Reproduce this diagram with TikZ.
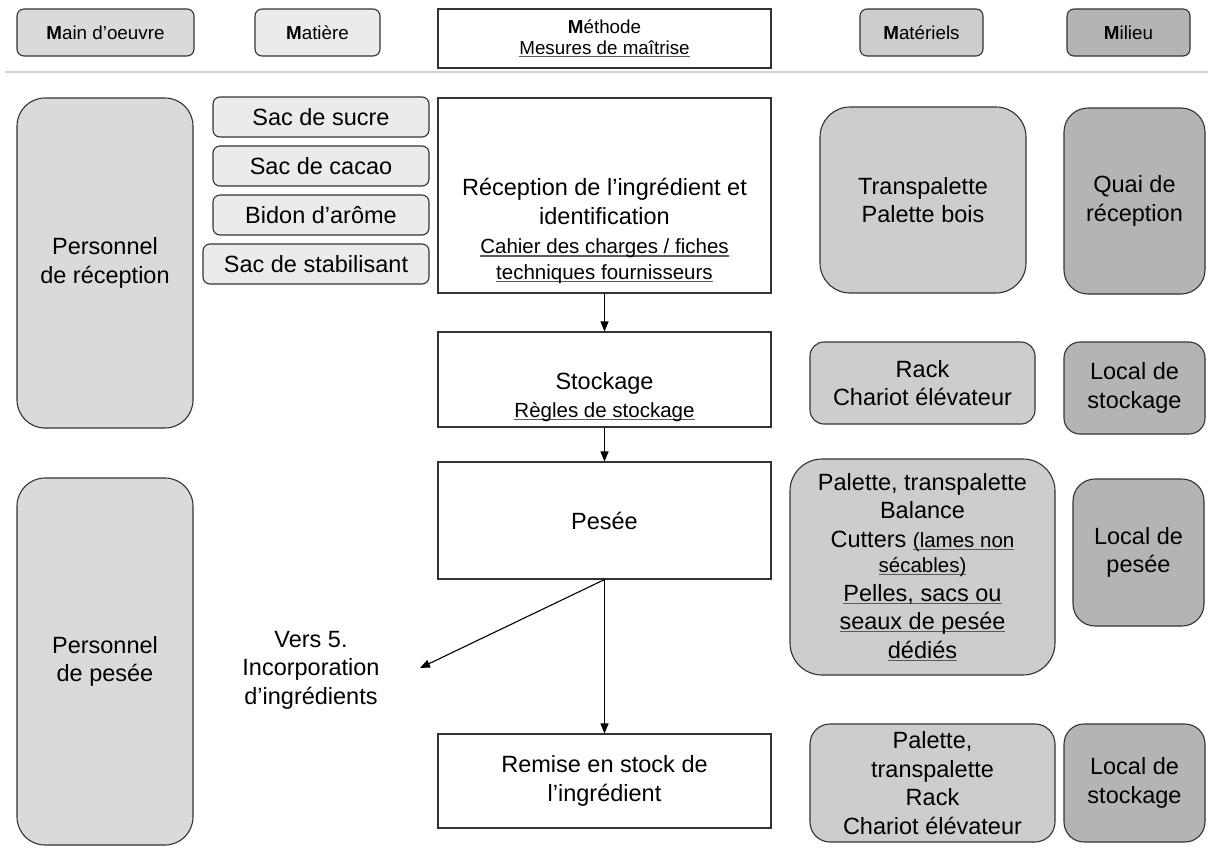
\documentclass[tikz,border=0pt]{standalone}
\usepackage{fontspec}
\setmainfont{Liberation Sans}
\usetikzlibrary{arrows.meta, positioning}

\definecolor{mocol}{HTML}{D9DADB}
\definecolor{matcol}{HTML}{EBEBEB}
\definecolor{matlcol}{HTML}{CDCDCE}
\definecolor{milcol}{HTML}{B4B4B4}
\definecolor{edgecol}{HTML}{333333}
\definecolor{sepcol}{HTML}{D4D4D4}
\definecolor{ulcol}{HTML}{5A5A5A}

\newcommand{\txthead}{\fontsize{18.8}{21}\selectfont}
\newcommand{\txtbody}{\fontsize{23.5}{28.5}\selectfont}
\newcommand{\txtsub}{\fontsize{20.5}{25}\selectfont}
% grey underline close to the baseline
\newcommand{\ulin}[1]{\leavevmode\setbox0\hbox{#1}\rlap{\color{ulcol}\rule[-2.8pt]{\wd0}{1.1pt}}\box0}

\begin{document}
\begin{tikzpicture}[x=1pt, y=-1pt,
  head/.style={draw=edgecol, line width=1.1pt, rounded corners=7pt, minimum height=47pt, inner sep=0pt, font=\txthead},
  proc/.style={draw=edgecol, line width=1.1pt, fill=white, minimum width=333pt, inner sep=0pt, align=center, font=\txtbody},
  rbox/.style={draw=edgecol, line width=1.1pt, inner sep=0pt, align=center, font=\txtbody},
  sac/.style={rbox, fill=matcol, rounded corners=7pt, minimum width=216pt, minimum height=40pt},
  mbox/.style={rbox, fill=matlcol},
  lbox/.style={rbox, fill=milcol},
  txt/.style={align=center, font=\txtbody, inner sep=0pt},
  flow/.style={line width=1.1pt, -{Triangle[length=10pt, width=8pt]}}]

  \fill[white] (0,0) rectangle (1208,855);
  \useasboundingbox (0,0) rectangle (1208,855);

  % Headers (5M)
  \node[head, fill=mocol, minimum width=177pt] (mo) at (105.5,32.5) {\textbf{M}ain d'oeuvre};
  \node[head, fill=matcol, minimum width=125pt] (mat) at (317.5,32.5) {\textbf{M}atière};
  \node[proc, minimum height=59pt, font=\txthead] (meth) at (604.5,38.5) {\textbf{M}éthode\\\ulin{Mesures de maîtrise}};
  \node[head, fill=matlcol, minimum width=123pt] (matl) at (921.5,32.5) {\textbf{M}atériels};
  \node[head, fill=milcol, minimum width=123pt] (mil) at (1128.5,32.5) {\textbf{M}ilieu};
  \draw[sepcol, line width=2pt] (5,72) -- (1208,72);

  % Main d'oeuvre
  \node[rbox, fill=mocol, rounded corners=28pt, minimum width=176pt, minimum height=330pt] (persrec) at (105,263) {Personnel\\de réception};
  \node[rbox, fill=mocol, rounded corners=28pt, minimum width=176pt, minimum height=367pt] (perspes) at (105,661.5) {Personnel\\de pesée};

  % Matiere
  \node[sac] (sucre) at (321,117) {Sac de sucre};
  \node[sac] (cacao) at (321,166) {Sac de cacao};
  \node[sac] (bidon) at (321,215) {Bidon d’arôme};
  \node[sac, minimum width=226pt] (stab) at (316,264) {Sac de stabilisant};

  % Methode
  \node[proc, minimum height=195pt] (recep) at (604.5,195.5) {};
  \node[txt] (recep-txt) at (604.5,231) {Réception de l’ingrédient et\\identification\\[1pt]{\txtsub\ulin{Cahier des charges / fiches}}\\[-3pt]{\txtsub\ulin{techniques fournisseurs}}};
  \node[proc, minimum height=95pt] (stock) at (604.5,379.5) {};
  \node[txt] (stock-txt) at (604.5,397) {Stockage\\{\txtsub\ulin{Règles de stockage}}};
  \node[proc, minimum height=117pt] (pesee) at (604.5,520.5) {Pesée};
  \node[proc, minimum height=94pt] (remise) at (604.5,781) {Remise en stock de\\l’ingrédient};
  \node[txt] (vers) at (311,670) {Vers 5.\\Incorporation\\d’ingrédients};
  \coordinate (vers-tip) at (420,668);

  % Materiels
  \node[mbox, rounded corners=30pt, minimum width=206pt, minimum height=186pt] (transp) at (923,200) {Transpalette\\Palette bois};
  \node[mbox, rounded corners=14pt, minimum width=225pt, minimum height=82pt] (rack) at (922.5,383) {Rack\\Chariot élévateur};
  \node[mbox, rounded corners=32pt, minimum width=265pt, minimum height=216pt] (palbal) at (922.5,567) {Palette, transpalette\\Balance\\Cutters {\txtsub\ulin{(lames non}}\\[-3pt]{\txtsub\ulin{sécables)}}\\\ulin{Pelles, sacs ou}\\\ulin{seaux de pesée}\\\ulin{dédiés}};
  \node[mbox, rounded corners=20pt, minimum width=245pt, minimum height=118pt] (palrack) at (932.5,783) {Palette,\\transpalette\\Rack\\Chariot élévateur};

  % Milieu
  \node[lbox, rounded corners=24pt, minimum width=141pt, minimum height=186pt] (quai) at (1134.5,201) {Quai de\\réception};
  \node[lbox, rounded corners=16pt, minimum width=141pt, minimum height=92pt] (lstock1) at (1134.5,388) {Local de\\stockage};
  \node[lbox, rounded corners=22pt, minimum width=131pt, minimum height=147pt] (lpes) at (1138.5,552.5) {Local de\\pesée};
  \node[lbox, rounded corners=20pt, minimum width=141pt, minimum height=118pt] (lstock2) at (1134.5,783) {Local de\\stockage};

  % Flow
  \draw[flow] (recep) -- (stock);
  \draw[flow] (stock) -- (pesee);
  \draw[flow] (pesee) -- (remise);
  \draw[flow] (pesee.south) -- (vers-tip);

\end{tikzpicture}
\end{document}
